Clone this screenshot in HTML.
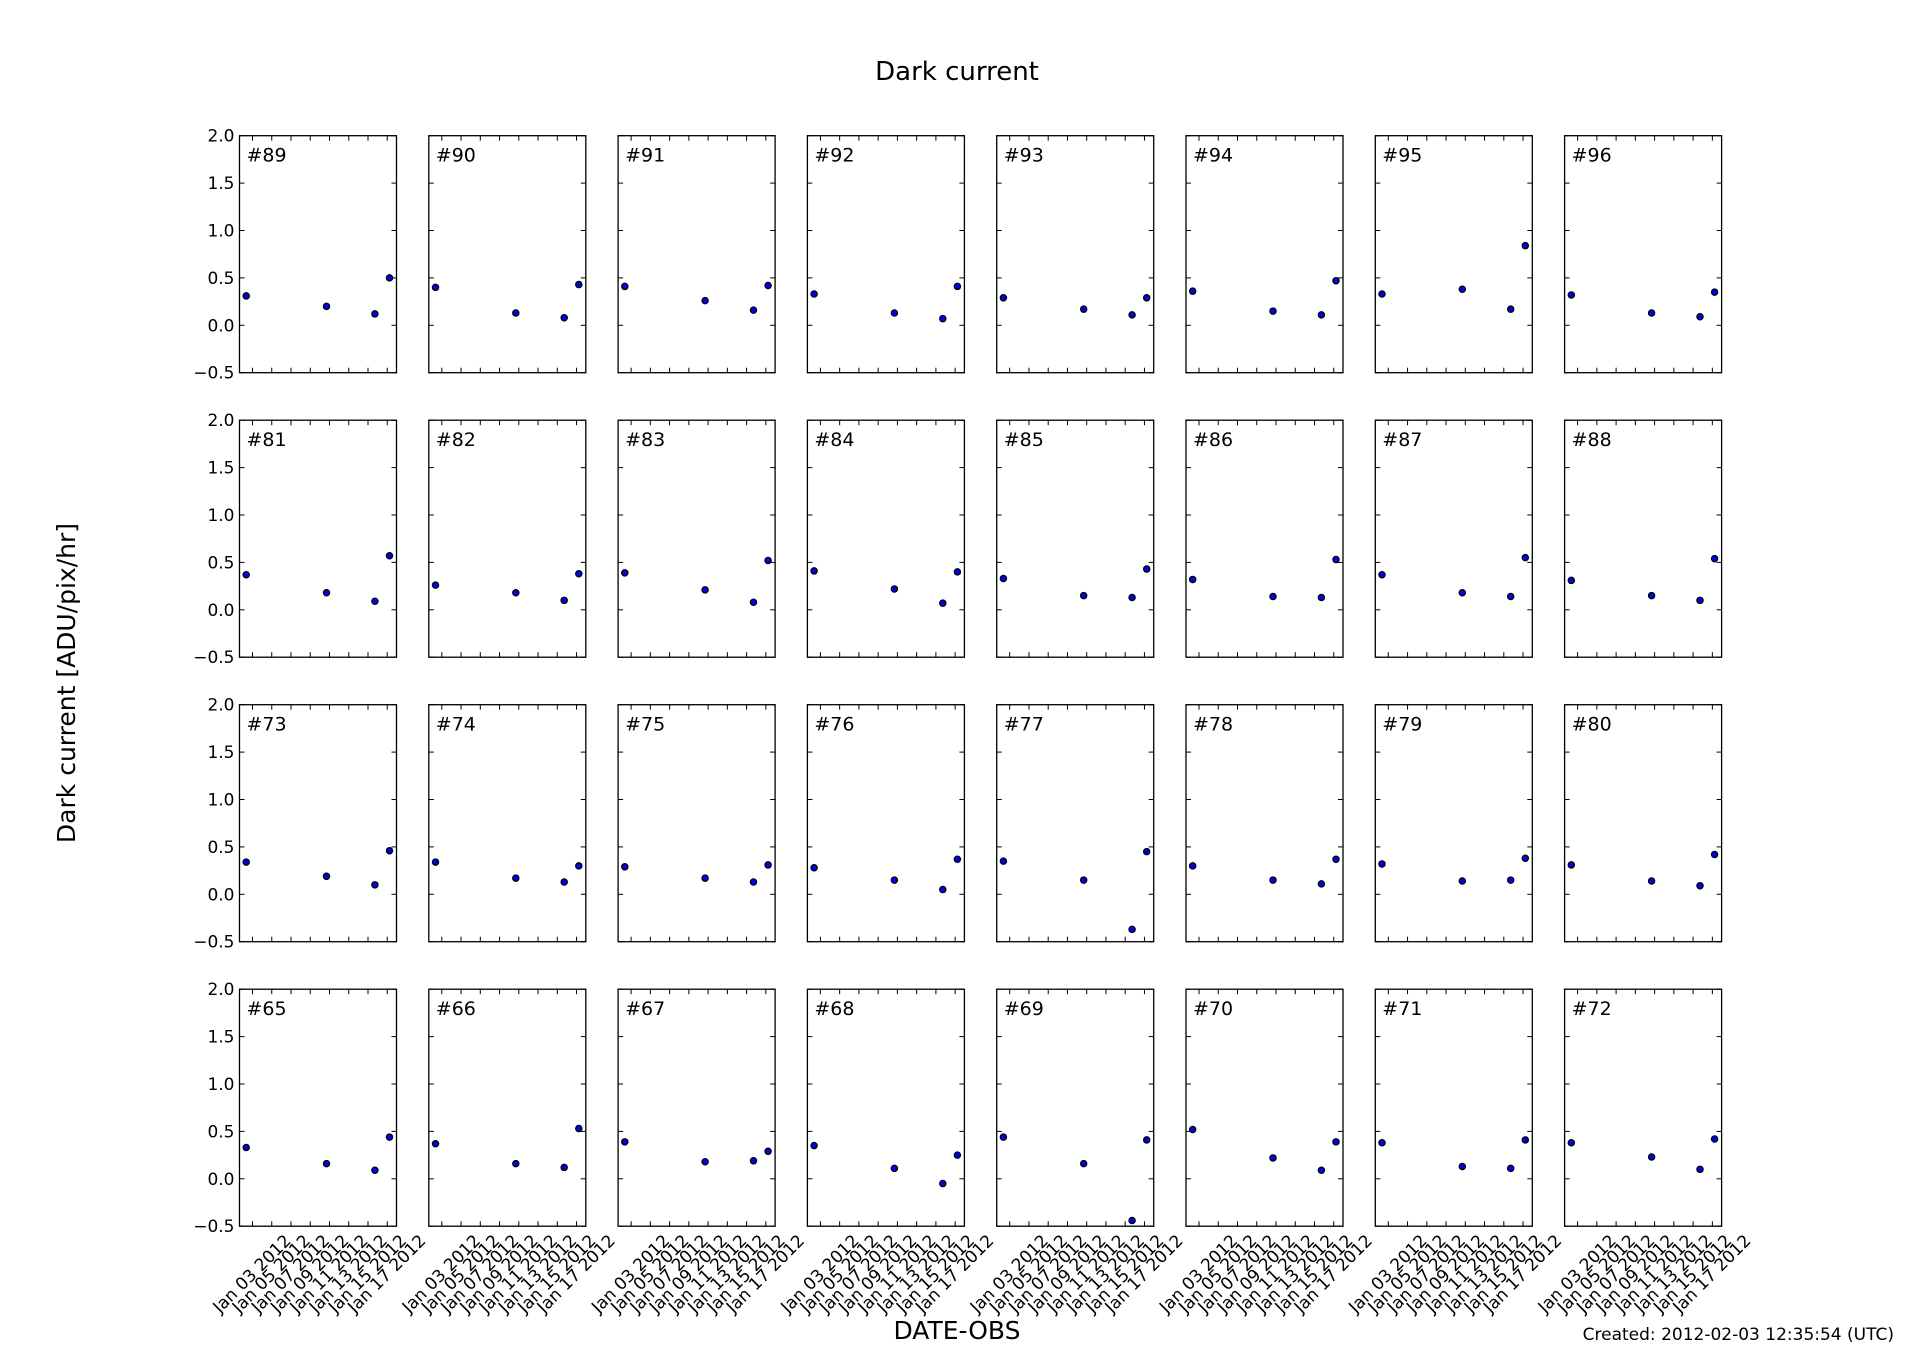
<!DOCTYPE html>
<html><head><meta charset="utf-8"><style>
html,body{margin:0;padding:0;background:#fff}
svg text{font-family:"DejaVu Sans","Liberation Sans",sans-serif;fill:#000}
</style></head><body>
<svg id="s" xmlns="http://www.w3.org/2000/svg" width="1912" height="1362" viewBox="0 0 1912 1362">
<rect width="1912" height="1362" fill="#fff"/>
<text x="957" y="80" font-size="26" text-anchor="middle">Dark current</text>
<text x="0" y="0" font-size="25" text-anchor="middle" transform="translate(75,683) rotate(-90)">Dark current [ADU/pix/hr]</text>
<text x="957" y="1339" font-size="25" text-anchor="middle">DATE-OBS</text>
<text x="1894" y="1340" font-size="17" text-anchor="end">Created: 2012-02-03 12:35:54 (UTC)</text>
</svg>
<script>
(function(){
var s=document.getElementById('s');
var data=[
[[89,.31,.20,.12,.50],[90,.40,.13,.08,.43],[91,.41,.26,.16,.42],[92,.33,.13,.07,.41],[93,.29,.17,.11,.29],[94,.36,.15,.11,.47],[95,.33,.38,.17,.84],[96,.32,.13,.09,.35]],
[[81,.37,.18,.09,.57],[82,.26,.18,.10,.38],[83,.39,.21,.08,.52],[84,.41,.22,.07,.40],[85,.33,.15,.13,.43],[86,.32,.14,.13,.53],[87,.37,.18,.14,.55],[88,.31,.15,.10,.54]],
[[73,.34,.19,.10,.46],[74,.34,.17,.13,.30],[75,.29,.17,.13,.31],[76,.28,.15,.05,.37],[77,.35,.15,-.37,.45],[78,.30,.15,.11,.37],[79,.32,.14,.15,.38],[80,.31,.14,.09,.42]],
[[65,.33,.16,.09,.44],[66,.37,.16,.12,.53],[67,.39,.18,.19,.29],[68,.35,.11,-.05,.25],[69,.44,.16,-.44,.41],[70,.52,.22,.09,.39],[71,.38,.13,.11,.41],[72,.38,.23,.10,.42]]];
var W=157,H=237,out='';
var px=[6.7,87,135.4,150];
var dates=['03','05','07','09','11','13','15','17'];
for(var r=0;r<4;r++){
 var T=135.7+r*284.5;
 for(var c=0;c<8;c++){
  var L=239.5+c*189.3, d=data[r][c];
  out+='<rect x="'+L+'" y="'+T+'" width="'+W+'" height="'+H+'" fill="none" stroke="#000" stroke-width="1.3"/>';
  for(var k=0;k<6;k++){var y=T+k*H/5;
   out+='<line x1="'+L+'" y1="'+y+'" x2="'+(L+5)+'" y2="'+y+'" stroke="#000"/>';
   out+='<line x1="'+(L+W)+'" y1="'+y+'" x2="'+(L+W-5)+'" y2="'+y+'" stroke="#000"/>';
   if(c==0){var lab=(2-k*0.5).toFixed(1);if(lab=='-0.5')lab='\u22120.5';
    out+='<text x="'+(L-5)+'" y="'+(y+6)+'" font-size="17" text-anchor="end">'+lab+'</text>';}
  }
  for(var t=0;t<8;t++){var x=L+13+t*19.25;
   out+='<line x1="'+x+'" y1="'+T+'" x2="'+x+'" y2="'+(T+5)+'" stroke="#000"/>';
   out+='<line x1="'+x+'" y1="'+(T+H)+'" x2="'+x+'" y2="'+(T+H-5)+'" stroke="#000"/>';
   if(r==3){out+='<text font-size="17" text-anchor="middle" dominant-baseline="central" transform="translate('+x+','+(T+H+48)+') rotate(-45)">Jan '+dates[t]+' 2012</text>';}
  }
  out+='<text x="'+(L+7)+'" y="'+(T+26)+'" font-size="19">#'+d[0]+'</text>';
  for(var p=0;p<4;p++){
   var cy=T+(2-d[p+1])*H/2.5;
   out+='<circle cx="'+(L+px[p])+'" cy="'+cy+'" r="3.1" fill="#0000ee" stroke="#000" stroke-width="1.3"/>';
  }
 }
}
s.insertAdjacentHTML('beforeend',out);
})();
</script>
</body></html>
